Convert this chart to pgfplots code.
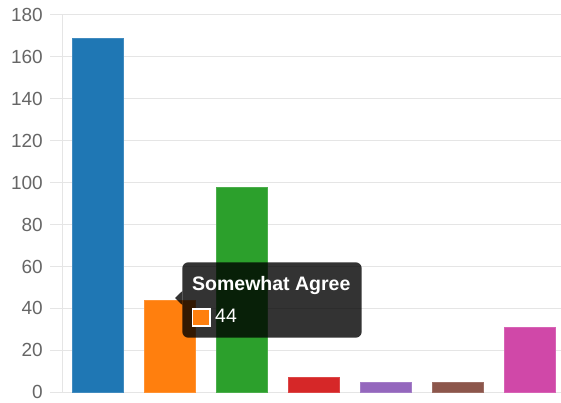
\documentclass[border=0pt]{standalone}
\usepackage{fontspec}
\setmainfont{Liberation Sans}
\usepackage{pgfplots}
\pgfplotsset{compat=1.18}
\definecolor{gridgray}{HTML}{E5E5E5}
\definecolor{labelgray}{HTML}{666666}
\definecolor{c1}{HTML}{1F77B4}
\definecolor{c2}{HTML}{FF7F0E}
\definecolor{c3}{HTML}{2CA02C}
\definecolor{c4}{HTML}{D62728}
\definecolor{c5}{HTML}{9467BD}
\definecolor{c6}{HTML}{8C564B}
\definecolor{c7}{RGB}{208,72,168}
\begin{document}
\begin{tikzpicture}
\useasboundingbox (-62pt,-9.7pt) rectangle (499pt,392.3pt);
\begin{axis}[
  scale only axis, width=499pt, height=377.3pt,
  xmin=-0.5, xmax=6.44, ymin=0, ymax=180,
  axis x line=none,
  axis y line=left,
  y axis line style={draw=gridgray, line width=1pt, -},
  ymajorgrids, grid style={gridgray, line width=1pt},
  ytick={0,20,...,180}, xtick=\empty,
  major tick length=12pt, tick align=outside,
  tick style={gridgray, line width=1pt},
  /pgf/number format/assume math mode=true,
  yticklabel style={font=\fontsize{19}{19}\selectfont, text=labelgray, anchor=east, inner sep=0pt, xshift=-7pt},
  ybar, bar width=51pt, bar shift=0pt,
]
\addplot[fill=c1, draw=c1!85!white] coordinates {(0,169)};
\addplot[fill=c2, draw=c2!85!white] coordinates {(1,44)};
\addplot[fill=c3, draw=c3!85!white] coordinates {(2,98)};
\addplot[fill=c4, draw=c4!85!white] coordinates {(3,7)};
\addplot[fill=c5, draw=c5!85!white] coordinates {(4,5)};
\addplot[fill=c6, draw=c6!85!white] coordinates {(5,5)};
\addplot[fill=c7, draw=c7!85!white] coordinates {(6,31)};
\end{axis}
% tooltip
\fill[black, opacity=0.8, rounded corners=6pt] (120.3pt,54.6pt) rectangle (299.7pt,130pt);
\fill[black, opacity=0.8] (113pt,94.3pt) -- (120.3pt,101.3pt) -- (120.3pt,87.3pt) -- cycle;
\node[anchor=base west, inner sep=0pt, text=white, font=\bfseries\fontsize{19.5}{19.5}\selectfont] at (130pt,102.3pt) {Somewhat Agree};
\filldraw[fill=c2, draw=white, line width=1.5pt] (130.5pt,66.4pt) rectangle (148.2pt,83.2pt);
\node[anchor=base west, inner sep=0pt, text=white, font=\fontsize{19.5}{19.5}\selectfont] at (153pt,69.6pt) {44};
\end{tikzpicture}
\end{document}
